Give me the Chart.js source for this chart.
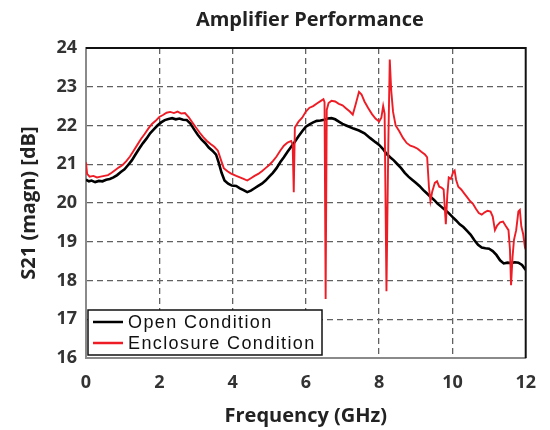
<!DOCTYPE html>
<html>
<head>
<meta charset="utf-8">
<script src="https://cdn.jsdelivr.net/npm/chart.js@4.4.1/dist/chart.umd.min.js"></script>
<style>
  html, body { margin: 0; padding: 0; background: #fff; }
</style>
</head>
<body>
<canvas id="amp" width="550" height="430"></canvas>
<script>
// tick labels
const freqTicks = [0, 2, 4, 6, 8, 10, 12];
const gainTicks = [16, 17, 18, 19, 20, 21, 22, 23, 24];

// Open Condition (black)
const openFreq = [0.00, 0.08, 0.15, 0.25, 0.35, 0.45, 0.55, 0.65, 0.75, 0.85, 0.95, 1.05, 1.15, 1.25, 1.35, 1.45, 1.55, 1.65, 1.75, 1.85, 1.95, 2.05, 2.15, 2.25, 2.35, 2.45, 2.55, 2.65, 2.75, 2.85, 2.95, 3.05, 3.15, 3.25, 3.35, 3.45, 3.55, 3.62, 3.70, 3.78, 3.88, 3.98, 4.10, 4.20, 4.30, 4.40, 4.50, 4.60, 4.70, 4.80, 4.90, 5.00, 5.10, 5.20, 5.30, 5.40, 5.50, 5.60, 5.70, 5.80, 5.90, 6.00, 6.10, 6.20, 6.30, 6.40, 6.50, 6.60, 6.70, 6.80, 6.90, 7.00, 7.10, 7.20, 7.30, 7.45, 7.60, 7.75, 7.90, 8.00, 8.10, 8.20, 8.30, 8.40, 8.50, 8.60, 8.70, 8.80, 8.90, 9.00, 9.10, 9.20, 9.30, 9.40, 9.50, 9.60, 9.70, 9.80, 9.90, 10.00, 10.10, 10.20, 10.30, 10.40, 10.50, 10.60, 10.70, 10.80, 10.90, 11.00, 11.10, 11.20, 11.30, 11.40, 11.50, 11.60, 11.70, 11.80, 11.90, 12.00];
const openGain = [20.60, 20.56, 20.58, 20.54, 20.57, 20.56, 20.60, 20.62, 20.66, 20.72, 20.80, 20.87, 20.98, 21.10, 21.25, 21.40, 21.54, 21.66, 21.80, 21.90, 22.00, 22.08, 22.14, 22.17, 22.19, 22.16, 22.18, 22.15, 22.14, 22.05, 21.90, 21.76, 21.64, 21.55, 21.43, 21.35, 21.25, 21.05, 20.78, 20.58, 20.50, 20.45, 20.44, 20.38, 20.33, 20.28, 20.32, 20.38, 20.44, 20.50, 20.58, 20.68, 20.78, 20.90, 21.05, 21.18, 21.32, 21.45, 21.58, 21.72, 21.85, 21.97, 22.03, 22.08, 22.12, 22.13, 22.15, 22.18, 22.19, 22.16, 22.10, 22.04, 22.00, 21.96, 21.92, 21.87, 21.80, 21.68, 21.57, 21.50, 21.40, 21.27, 21.18, 21.10, 21.00, 20.90, 20.78, 20.68, 20.60, 20.52, 20.44, 20.34, 20.25, 20.16, 20.08, 19.98, 19.90, 19.82, 19.74, 19.64, 19.55, 19.45, 19.38, 19.28, 19.18, 19.04, 18.92, 18.85, 18.83, 18.82, 18.76, 18.66, 18.52, 18.44, 18.46, 18.45, 18.47, 18.46, 18.40, 18.27];

// Enclosure Condition (red)
const encFreq = [0.00, 0.03, 0.10, 0.20, 0.30, 0.40, 0.50, 0.60, 0.70, 0.80, 0.90, 1.00, 1.10, 1.20, 1.30, 1.40, 1.50, 1.60, 1.70, 1.80, 1.90, 2.00, 2.10, 2.20, 2.30, 2.40, 2.50, 2.60, 2.70, 2.80, 2.90, 3.00, 3.10, 3.20, 3.30, 3.40, 3.50, 3.60, 3.68, 3.76, 3.86, 3.96, 4.10, 4.20, 4.30, 4.40, 4.50, 4.60, 4.70, 4.80, 4.90, 5.00, 5.10, 5.20, 5.30, 5.40, 5.50, 5.60, 5.64, 5.67, 5.70, 5.80, 5.90, 6.00, 6.10, 6.20, 6.30, 6.40, 6.48, 6.51, 6.54, 6.57, 6.62, 6.70, 6.80, 6.90, 7.00, 7.10, 7.20, 7.28, 7.36, 7.45, 7.52, 7.60, 7.70, 7.80, 7.90, 8.00, 8.06, 8.11, 8.15, 8.20, 8.25, 8.29, 8.33, 8.38, 8.45, 8.55, 8.65, 8.75, 8.85, 8.95, 9.05, 9.15, 9.25, 9.31, 9.36, 9.40, 9.45, 9.52, 9.58, 9.64, 9.70, 9.76, 9.82, 9.86, 9.90, 9.96, 10.02, 10.06, 10.10, 10.16, 10.24, 10.32, 10.40, 10.48, 10.56, 10.64, 10.72, 10.80, 10.88, 10.96, 11.04, 11.10, 11.16, 11.22, 11.30, 11.38, 11.46, 11.53, 11.57, 11.60, 11.64, 11.68, 11.74, 11.80, 11.84, 11.88, 11.93, 11.98, 12.00];
const encGain = [21.05, 20.75, 20.68, 20.70, 20.66, 20.68, 20.70, 20.72, 20.78, 20.85, 20.92, 20.98, 21.08, 21.20, 21.35, 21.50, 21.65, 21.78, 21.92, 22.04, 22.12, 22.22, 22.27, 22.33, 22.35, 22.32, 22.36, 22.31, 22.32, 22.22, 22.08, 21.95, 21.82, 21.70, 21.60, 21.52, 21.45, 21.35, 21.12, 20.90, 20.82, 20.76, 20.70, 20.66, 20.62, 20.58, 20.64, 20.70, 20.75, 20.82, 20.90, 20.98, 21.08, 21.20, 21.35, 21.48, 21.56, 21.60, 21.50, 20.28, 21.95, 22.10, 22.20, 22.36, 22.46, 22.50, 22.57, 22.63, 22.68, 22.60, 17.52, 22.40, 22.58, 22.64, 22.62, 22.56, 22.52, 22.44, 22.36, 22.28, 22.55, 22.87, 22.80, 22.62, 22.45, 22.30, 22.18, 22.10, 22.20, 22.50, 22.30, 17.72, 21.50, 23.70, 22.90, 22.35, 22.00, 21.85, 21.68, 21.55, 21.48, 21.45, 21.40, 21.32, 21.25, 21.18, 20.40, 20.05, 20.30, 20.52, 20.56, 20.42, 20.40, 20.35, 19.45, 20.20, 20.66, 20.62, 20.80, 20.84, 20.60, 20.42, 20.35, 20.25, 20.15, 20.05, 19.98, 19.85, 19.74, 19.70, 19.76, 19.80, 19.78, 19.65, 19.30, 19.42, 19.50, 19.52, 19.40, 19.30, 18.80, 17.88, 18.60, 19.05, 19.30, 19.78, 19.82, 19.40, 19.20, 18.85, 18.80];

const toXY = (xs, ys) => xs.map((x, i) => ({ x: x, y: ys[i] }));

const tickFont = { family: "'Open Sans', sans-serif", size: 18, weight: "bold" };
const titleFont = { family: "'Open Sans', sans-serif", size: 20, weight: "bold" };
const gridDash = "#616161";

// frame: top and right edges in black, drawn over the data
const framePlugin = {
  id: "frame",
  afterDatasetsDraw(chart) {
    const { ctx, chartArea: a } = chart;
    ctx.save();
    ctx.strokeStyle = "#111";
    ctx.lineWidth = 2;
    ctx.beginPath();
    ctx.moveTo(a.left, a.top);
    ctx.lineTo(a.right, a.top);
    ctx.lineTo(a.right, a.bottom);
    ctx.stroke();
    ctx.restore();
  },
};

// chart title centred over the plot area
const headPlugin = {
  id: "head",
  afterDraw(chart) {
    const { ctx, chartArea: a } = chart;
    ctx.save();
    ctx.font = "bold 20px 'Open Sans', sans-serif";
    ctx.fillStyle = "#222";
    ctx.textAlign = "center";
    ctx.textBaseline = "middle";
    ctx.fillText("Amplifier Performance", (a.left + a.right) / 2 + 4, 20);
    ctx.restore();
  },
};

// boxed legend in the lower-left corner of the plot
const boxLegend = {
  id: "boxLegend",
  afterDraw(chart) {
    const { ctx, chartArea: a } = chart;
    const x = a.left + 2, y = a.bottom - 48, w = 234, h = 45;
    ctx.save();
    ctx.fillStyle = "#fff";
    ctx.fillRect(x, y, w, h);
    ctx.strokeStyle = "#111";
    ctx.lineWidth = 1.5;
    ctx.strokeRect(x, y, w, h);
    ctx.font = "18px 'Liberation Sans', Arial, sans-serif";
    ctx.letterSpacing = "1.4px";
    ctx.textBaseline = "middle";
    ctx.fillStyle = "#111";
    chart.data.datasets.slice().reverse().forEach((ds, i) => {
      const ly = y + 12 + i * 21;
      ctx.strokeStyle = ds.borderColor;
      ctx.lineWidth = 2.5;
      ctx.beginPath();
      ctx.moveTo(x + 5, ly);
      ctx.lineTo(x + 35, ly);
      ctx.stroke();
      ctx.fillText(ds.label, x + 40, ly + 1);
    });
    ctx.restore();
  },
};

new Chart(document.getElementById("amp"), {
  type: "line",
  data: {
    datasets: [
      {
        label: "Enclosure Condition",
        data: toXY(encFreq, encGain),
        borderColor: "#ee1c25",
        borderWidth: 1.9,
        pointRadius: 0,
        tension: 0,
        order: 0,
      },
      {
        label: "Open Condition",
        data: toXY(openFreq, openGain),
        borderColor: "#000",
        borderWidth: 2.6,
        pointRadius: 0,
        tension: 0,
        order: 1,
      },
    ],
  },
  options: {
    responsive: false,
    animation: false,
    layout: { padding: { top: 48, right: 16, bottom: 0, left: 0 } },
    plugins: {
      legend: { display: false },
      tooltip: { enabled: false },
    },
    scales: {
      x: {
        type: "linear",
        min: 0,
        max: 12,
        afterBuildTicks(scale) {
          scale.ticks = freqTicks.map((v) => ({ value: v }));
        },
        afterFit(scale) {
          scale.height = 72;
        },
        ticks: { color: "#333", font: tickFont, padding: 14, maxRotation: 0 },
        grid: {
          drawTicks: false,
          color: (c) => (c.tick && (c.tick.value === 0 || c.tick.value === 12) ? "rgba(0,0,0,0)" : gridDash),
          lineWidth: 1.3,
        },
        border: { display: true, color: "#8a8a8a", width: 2, dash: [6, 4] },
        title: { display: true, text: "Frequency (GHz)", color: "#222", font: titleFont, padding: { top: 0, bottom: 2 } },
      },
      y: {
        type: "linear",
        min: 16,
        max: 24,
        afterBuildTicks(scale) {
          scale.ticks = gainTicks.map((v) => ({ value: v }));
        },
        afterFit(scale) {
          scale.width = 86;
        },
        ticks: { color: "#333", font: tickFont, padding: 9 },
        grid: {
          drawTicks: false,
          color: (c) => (c.tick && (c.tick.value === 16 || c.tick.value === 24) ? "rgba(0,0,0,0)" : gridDash),
          lineWidth: 1.3,
        },
        border: { display: true, color: "#8a8a8a", width: 2, dash: [6, 4] },
        title: { display: true, text: "S21 (magn) [dB]", color: "#222", font: titleFont, padding: { top: 17, bottom: 0 } },
      },
    },
  },
  plugins: [framePlugin, headPlugin, boxLegend],
});
</script>
</body>
</html>
